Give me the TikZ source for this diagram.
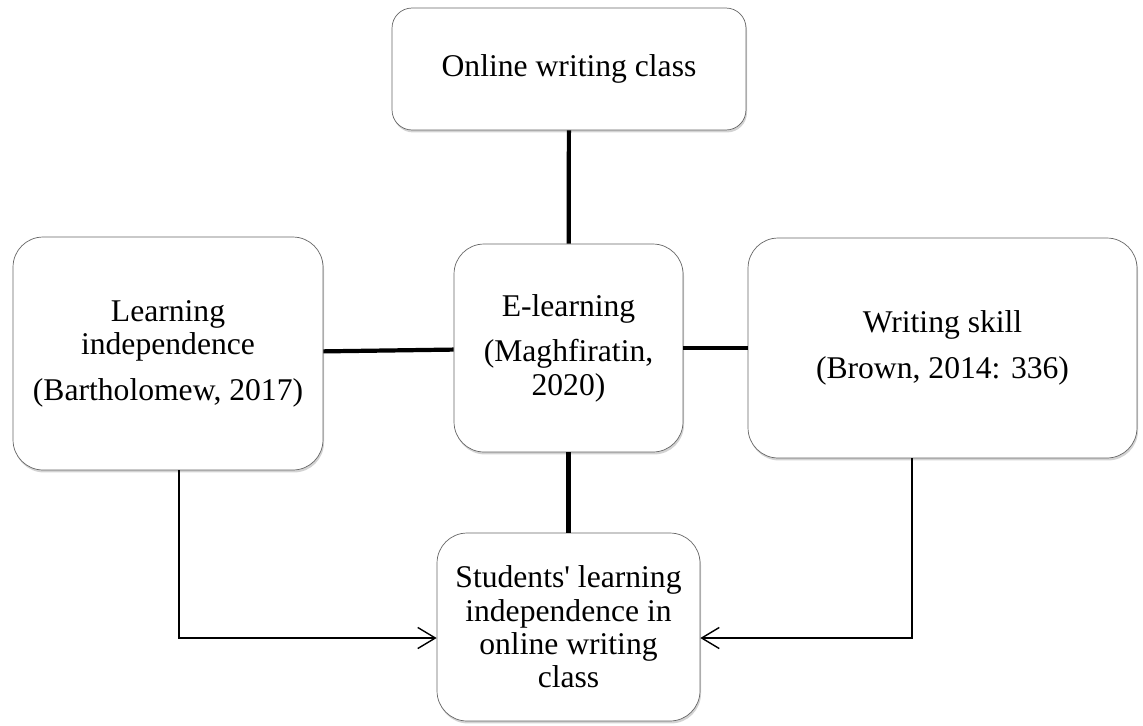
\documentclass[tikz,border=0pt]{standalone}
\usepackage{fontspec}
\setmainfont{Liberation Serif}
\usepackage{tikz}
\usetikzlibrary{arrows.meta}
\usetikzlibrary{shadows}

\begin{document}
\begin{tikzpicture}[x=0.02cm,y=-0.02cm,
    box/.style={draw=gray!80!black,fill=white,rounded corners=0.6cm,align=center,inner sep=0pt,
        font=\fontsize{18}{19}\selectfont,
        drop shadow={shadow xshift=0.6pt,shadow yshift=-1.4pt,opacity=0.35}},
    link/.style={line width=2.4pt},
    feed/.style={line width=0.8pt,-{Straight Barb[length=10pt,width=12pt,line width=0.8pt]}}]
    \useasboundingbox (0,0) rectangle (1143,725);

    \node[box,rounded corners=0.4cm,minimum width=7.08cm,minimum height=2.44cm] (online) at (569,69)
        {Online writing class};
    \node[box,minimum width=6.2cm,minimum height=4.66cm] (indep) at (168,353.5)
        {Learning\\ independence\\[7pt] (Bartholomew, 2017)};
    \node[box,minimum width=4.58cm,minimum height=4.16cm] (elearn) at (568.5,348)
        {E-learning\\[7pt] (Maghfiratin,\\ 2020)};
    \node[box,minimum width=7.78cm,minimum height=4.4cm] (skill) at (942.5,348)
        {Writing skill\\[7pt] (Brown, 2014: 336)};
    \node[box,minimum width=5.26cm,minimum height=3.76cm] (result) at (568.5,627)
        {Students\textquotesingle{} learning\\ independence in\\ online writing\\ class};

    \coordinate (lfoot) at (179,470);
    \coordinate (rfoot) at (912,458);

    \draw[link] (online) -- (elearn);
    \draw[link] (indep) -- (elearn);
    \draw[link] (elearn) -- (skill);
    \draw[link] (elearn) -- (result);

    \draw[feed] (lfoot) |- ([yshift=-0.22cm]result.west);
    \draw[feed] (rfoot) |- ([yshift=-0.22cm]result.east);
\end{tikzpicture}
\end{document}
